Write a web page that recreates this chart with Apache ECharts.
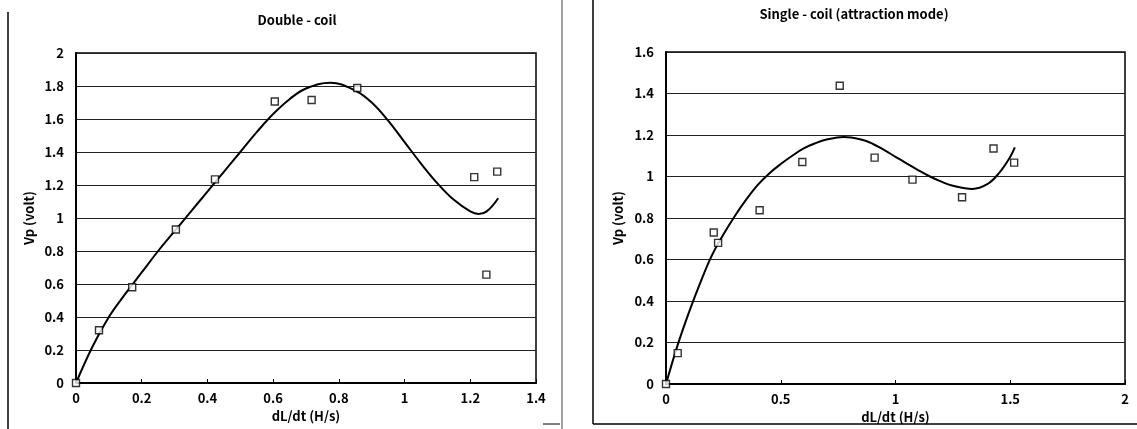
<!DOCTYPE html>
<html>
<head>
<meta charset="utf-8">
<script src="https://cdn.jsdelivr.net/npm/echarts@6/dist/echarts.min.js"></script>
<style>
html,body{margin:0;padding:0;background:#fff;}
#c{width:1137px;height:429px;}
</style>
</head>
<body>
<div id="c"></div>
<script>
// ---- Data ----
const leftTitle = 'Double - coil';
const rightTitle = 'Single - coil (attraction mode)';
const xName = 'dL/dt (H/s)';
const yName = 'Vp (volt)';

// Left: measured points
const leftX = [0, 0.07, 0.171, 0.304, 0.423, 0.605, 0.717, 0.856, 1.212, 1.282, 1.249];
const leftY = [0, 0.32, 0.58, 0.93, 1.234, 1.706, 1.715, 1.788, 1.248, 1.281, 0.657];
// Left: trend curve
const leftCurveX = [0, 0.05, 0.1, 0.15, 0.2, 0.25, 0.3, 0.35, 0.4, 0.45, 0.5, 0.55, 0.6, 0.65, 0.7, 0.775, 0.85, 0.9, 0.95, 1.0, 1.05, 1.1, 1.15, 1.2, 1.225, 1.25, 1.285];
const leftCurveY = [0, 0.22, 0.40, 0.54, 0.67, 0.80, 0.92, 1.04, 1.16, 1.28, 1.40, 1.52, 1.63, 1.72, 1.785, 1.82, 1.772, 1.70, 1.59, 1.46, 1.33, 1.21, 1.11, 1.04, 1.025, 1.04, 1.12];

// Right: measured points
const rightX = [0, 0.051, 0.208, 0.227, 0.408, 0.594, 0.757, 0.909, 1.074, 1.29, 1.427, 1.517];
const rightY = [0, 0.149, 0.73, 0.68, 0.837, 1.07, 1.437, 1.091, 0.985, 0.9, 1.135, 1.067];
// Right: trend curve
const rightCurveX = [0, 0.05, 0.1, 0.15, 0.2, 0.25, 0.3, 0.35, 0.4, 0.45, 0.5, 0.55, 0.6, 0.65, 0.7, 0.775, 0.85, 0.9, 0.95, 1.0, 1.05, 1.1, 1.15, 1.2, 1.25, 1.335, 1.4, 1.45, 1.5, 1.52];
const rightCurveY = [0, 0.185, 0.345, 0.49, 0.62, 0.72, 0.81, 0.89, 0.96, 1.015, 1.06, 1.10, 1.135, 1.16, 1.178, 1.19, 1.178, 1.158, 1.128, 1.095, 1.062, 1.03, 1.0, 0.975, 0.955, 0.94, 0.963, 1.015, 1.095, 1.14];

const leftXAxis = {min: 0, max: 1.4, interval: 0.2};
const leftYAxis = {min: 0, max: 2, interval: 0.2};
const rightXAxis = {min: 0, max: 2, interval: 0.5};
const rightYAxis = {min: 0, max: 1.6, interval: 0.2};

// ---- Build ----
const zip = (a, b) => a.map((v, i) => [v, b[i]]);
const FONT = '"Noto Sans CJK JP", "Liberation Sans", sans-serif';
const lbl = {color: '#000', fontFamily: FONT, fontSize: 13, fontWeight: 'bold'};

function xAxis(gi, cfg) {
  return {
    type: 'value', gridIndex: gi, min: cfg.min, max: cfg.max, interval: cfg.interval,
    name: xName, nameLocation: 'middle', nameGap: 27,
    nameTextStyle: Object.assign({}, lbl),
    axisLine: {show: true, onZero: false, lineStyle: {color: '#000', width: 2}},
    axisTick: {show: true, inside: true, length: 4, lineStyle: {color: '#000'}},
    axisLabel: Object.assign({margin: 9}, lbl),
    splitLine: {show: false}
  };
}
function yAxis(gi, cfg, gap) {
  return {
    type: 'value', gridIndex: gi, min: cfg.min, max: cfg.max, interval: cfg.interval,
    name: yName, nameLocation: 'middle', nameGap: gap,
    nameTextStyle: Object.assign({}, lbl),
    axisLine: {show: true, onZero: false, lineStyle: {color: '#000', width: 2}},
    axisTick: {show: false},
    axisLabel: Object.assign({margin: 12, formatter: v => String(+v.toFixed(1))}, lbl),
    splitLine: {show: true, lineStyle: {color: '#222', width: 1}}
  };
}
const scatterStyle = {
  type: 'scatter', symbol: 'rect', symbolSize: 7,
  itemStyle: {color: '#fff', borderColor: '#000', borderWidth: 1.4},
  z: 5
};
const lineStyle = {
  type: 'line', smooth: 0.4, showSymbol: false, symbol: 'none',
  lineStyle: {color: '#000', width: 2}, z: 4
};

const chart = echarts.init(document.getElementById('c'));
chart.setOption({
  backgroundColor: '#fff',
  animation: false,
  title: [
    {text: leftTitle, left: 292, top: 9, textAlign: 'center', textStyle: Object.assign({}, lbl, {fontSize: 13})},
    {text: rightTitle, left: 849, top: 3, textAlign: 'center', textStyle: Object.assign({}, lbl, {fontSize: 13})}
  ],
  grid: [
    {left: 76, top: 53, width: 460, height: 330, show: true, borderColor: '#000', borderWidth: 1.5, backgroundColor: 'transparent'},
    {left: 666, top: 52, width: 459, height: 332, show: true, borderColor: '#000', borderWidth: 1.5, backgroundColor: 'transparent'}
  ],
  xAxis: [xAxis(0, leftXAxis), xAxis(1, rightXAxis)],
  yAxis: [yAxis(0, leftYAxis, 40), yAxis(1, rightYAxis, 41)],
  series: [
    Object.assign({}, lineStyle, {xAxisIndex: 0, yAxisIndex: 0, data: zip(leftCurveX, leftCurveY)}),
    Object.assign({}, scatterStyle, {xAxisIndex: 0, yAxisIndex: 0, data: zip(leftX, leftY)}),
    Object.assign({}, lineStyle, {xAxisIndex: 1, yAxisIndex: 1, data: zip(rightCurveX, rightCurveY)}),
    Object.assign({}, scatterStyle, {xAxisIndex: 1, yAxisIndex: 1, data: zip(rightX, rightY)})
  ],
  graphic: [
    {type: 'line', shape: {x1: 8, y1: 12, x2: 8, y2: 429}, style: {stroke: '#000', lineWidth: 1.5}},
    {type: 'line', shape: {x1: 543, y1: 424, x2: 560, y2: 424}, style: {stroke: '#000', lineWidth: 1}},
    {type: 'line', shape: {x1: 562, y1: 0, x2: 562, y2: 429}, style: {stroke: '#444', lineWidth: 1}},
    {type: 'line', shape: {x1: 593, y1: 0, x2: 593, y2: 424}, style: {stroke: '#000', lineWidth: 1.5}},
    {type: 'line', shape: {x1: 593, y1: 424, x2: 1137, y2: 424}, style: {stroke: '#000', lineWidth: 1.5}}
  ]
});
</script>
</body>
</html>
